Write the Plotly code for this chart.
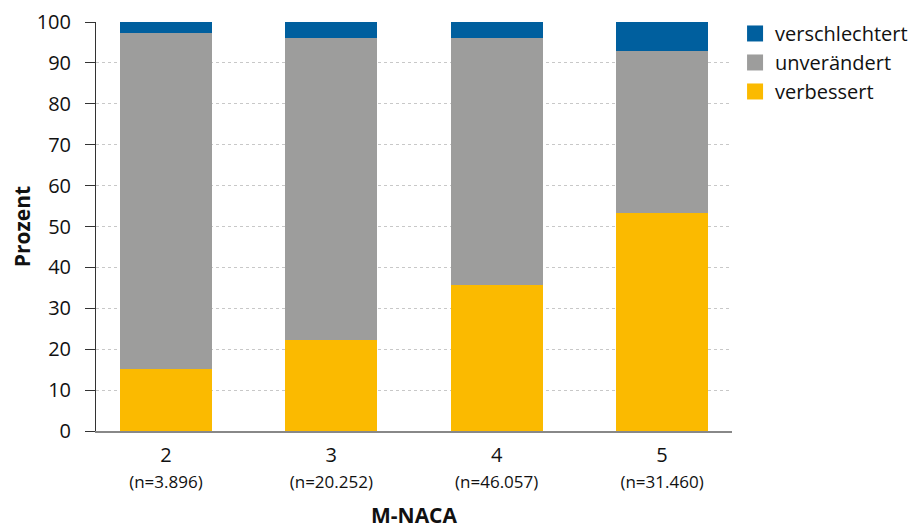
import plotly.graph_objects as go

categories = ["2", "3", "4", "5"]
n_labels = ["(n=3.896)", "(n=20.252)", "(n=46.057)", "(n=31.460)"]
verbessert = [15.1, 22.2, 35.6, 53.3]
unveraendert = [82.2, 73.9, 60.5, 39.7]
verschlechtert = [2.7, 3.9, 3.9, 7.0]
y_ticks = [0, 10, 20, 30, 40, 50, 60, 70, 80, 90, 100]

series = [("verbessert", verbessert, "#FBBA00"),
          ("unverändert", unveraendert, "#9D9D9C"),
          ("verschlechtert", verschlechtert, "#005F9E")]

FONT = "Open Sans, Noto Sans, sans-serif"
x = list(range(len(categories)))
ticktext = [f"{c}<br><span style='font-size:17px'>{n}</span>" for c, n in zip(categories, n_labels)]

fig = go.Figure()
for name, vals, col in series:
    fig.add_bar(x=x, y=vals, name=name, marker_color=col, marker_line_width=0,
                width=0.556, showlegend=False)
# legend proxies with large square symbols
for name, vals, col in series:
    fig.add_scatter(x=[None], y=[None], mode="markers", name=name,
                    marker=dict(symbol="square", size=23, color=col))

fig.update_layout(
    barmode="stack",
    width=918, height=529,
    margin=dict(l=88, r=194, t=14, b=106),
    plot_bgcolor="white", paper_bgcolor="white",
    font=dict(family=FONT, size=20, color="#111111"),
    legend=dict(x=0.792, y=0.9887, xref="container", yref="container",
                xanchor="left", yanchor="top", traceorder="reversed",
                font=dict(size=20), tracegroupgap=0, itemwidth=30),
    bargap=0,
)
fig.update_xaxes(
    range=[-0.423, 3.423], tickvals=x, ticktext=ticktext,
    showline=True, linecolor="#888888", linewidth=2, ticks="",
    title=dict(text="<b>M-NACA</b>", font=dict(size=21), standoff=16),
    tickfont=dict(size=20), automargin=False, ticklabelstandoff=5,
    ticklabeloverflow="allow",
)
fig.update_yaxes(
    range=[0, 100], tickvals=y_ticks,
    showline=True, linecolor="#333333", linewidth=1,
    ticks="outside", ticklen=10, tickcolor="#333333",
    showgrid=True, gridcolor="#C8C8C8", griddash="dot", gridwidth=1,
    title=dict(text="<b>Prozent</b>", font=dict(size=21), standoff=17),
    tickfont=dict(size=20), automargin=False, ticklabelstandoff=10,
    ticklabeloverflow="allow", zeroline=False,
)
fig.write_html("out.html")
